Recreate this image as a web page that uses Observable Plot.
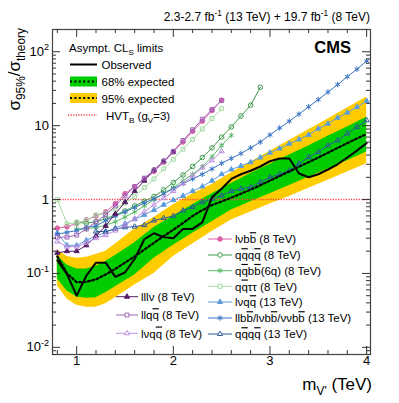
<!DOCTYPE html>
<html><head><meta charset="utf-8">
<script src="https://cdn.jsdelivr.net/npm/d3@7"></script>
<script src="https://cdn.jsdelivr.net/npm/@observablehq/plot@0.6"></script>
<style>body{margin:0;background:#fff;} svg{display:block;}</style>
</head><body><div id="chart"></div>
<script>
const FONT = "'Liberation Sans', Arial, Helvetica, sans-serif";

// ---------- data ----------
const massGrid = [0.8,0.9,1.0,1.1,1.2,1.3,1.4,1.5,1.6,1.7,1.8,1.9,2.0,2.1,2.2,2.3,2.4,2.5,2.6,2.7,2.8,2.9,3.0,3.1,3.2,3.3,3.4,3.5,3.6,3.7,3.8,3.9,4.0];
const observed = [0.15,0.098,0.05,0.093,0.14,0.14,0.09,0.103,0.157,0.29,0.35,0.31,0.30,0.40,0.40,0.49,1.07,1.4,1.9,2.2,2.45,2.8,3.3,3.6,3.6,2.25,2.0,2.2,2.55,3.0,3.7,4.6,5.8];
const expected = [0.17,0.10,0.076,0.077,0.083,0.097,0.115,0.14,0.17,0.21,0.26,0.32,0.39,0.48,0.6,0.72,0.84,0.94,1.06,1.2,1.36,1.56,1.8,2.08,2.4,2.78,3.2,3.7,4.3,5.0,5.8,6.7,7.7];

const bandMass = [0.8,0.9,1.0,1.1,1.2,1.3,1.4,1.6,1.8,2.0,2.2,2.4,2.6,2.8,3.0,3.2,3.4,3.6,3.8,4.0];
const yellowHi = [0.21,0.17,0.16,0.165,0.18,0.2,0.25,0.4,0.57,0.85,1.2,1.6,2.3,3.2,4.5,6.3,8.8,12.3,17.3,24.5];
const greenHi  = [0.175,0.13,0.115,0.115,0.125,0.145,0.175,0.26,0.42,0.6,0.85,1.2,1.65,2.25,3.0,4.0,5.3,7.2,9.6,13];
const greenLo  = [0.085,0.058,0.048,0.046,0.047,0.055,0.066,0.095,0.16,0.24,0.35,0.5,0.72,0.93,1.2,1.55,2.0,2.6,3.35,4.4];
const yellowLo = [0.068,0.045,0.037,0.035,0.035,0.039,0.047,0.07,0.1,0.17,0.25,0.37,0.53,0.68,0.87,1.1,1.42,1.82,2.35,3.05];

const hvtLevel = 1;

const m_lvbb8 = [0.8,0.9,1.0,1.1,1.2,1.3,1.4,1.5,1.6,1.7,1.8,1.9,2.0,2.1,2.2,2.3,2.4,2.5];
const v_lvbb8 = [0.41,0.43,0.47,0.53,0.6,0.68,0.88,1.2,1.5,1.9,2.4,3.2,4.4,6.0,8.4,11.5,16,22];
const m_qqqq8 = [1.0,1.1,1.2,1.3,1.4,1.5,1.6,1.7,1.8,1.9,2.0,2.1,2.2,2.3,2.4,2.5,2.6,2.7,2.8,2.9];
const v_qqqq8 = [0.49,0.48,0.5,0.55,0.62,0.7,0.82,0.95,1.1,1.35,1.7,2.15,2.8,3.7,5.0,7.0,9.6,13.5,18.9,33];
const m_6q8 = [1.0,1.1,1.2,1.3,1.4,1.5,1.6,1.7,1.8,1.9,2.0,2.1,2.2,2.3,2.4,2.5,2.6];
const v_6q8 = [0.4,0.4,0.42,0.45,0.5,0.58,0.68,0.82,1.0,1.2,1.45,1.8,2.2,2.8,3.8,5.4,7.4];
const m_qqtt8 = [0.8,0.9,1.0,1.1,1.2,1.3,1.4,1.5,1.6,1.7,1.8,1.9,2.0,2.1,2.2,2.3,2.4,2.5];
const v_qqtt8 = [1.0,0.47,0.48,0.52,0.62,0.65,0.75,0.9,1.1,1.45,1.9,2.6,3.5,4.8,6.5,9.0,12.5,17];
const m_lvqq13 = massGrid;
const v_lvqq13 = [0.35,0.24,0.24,0.28,0.32,0.36,0.41,0.47,0.54,0.62,0.72,0.85,0.98,1.12,1.3,1.5,1.8,2.2,2.55,2.85,3.2,3.7,4.3,4.9,5.7,6.5,7.5,9.1,10.6,12.8,15,17.8,21.6];
const m_llbb13 = massGrid;
const v_llbb13 = [0.34,0.36,0.38,0.42,0.44,0.52,0.6,0.68,0.78,0.9,1.02,1.2,1.4,1.65,1.9,2.2,2.6,3.1,3.6,4.2,5.0,6.0,7.5,9.3,11.5,14.3,18,22.5,28.5,36,46,58,75];
const m_qqqq13 = [1.2,1.3,1.4,1.5,1.6,1.7,1.8,1.9,2.0,2.1,2.2,2.3,2.4,2.5,2.6,2.7,2.8,2.9,3.0,3.1,3.2,3.3,3.4,3.5,3.6,3.7,3.8,3.9,4.0];
const v_qqqq13 = [0.37,0.37,0.4,0.42,0.43,0.45,0.52,0.56,0.6,0.71,0.79,0.92,1.02,1.13,1.3,1.4,1.47,1.72,2.0,2.2,2.47,3.05,3.75,4.4,5.4,6.3,7.8,9.6,11.8];
const m_lllv8 = [0.8,0.9,1.0,1.1,1.2,1.3,1.4,1.5,1.6,1.7,1.8,1.9,2.0];
const v_lllv8 = [0.19,0.2,0.2,0.24,0.32,0.44,0.64,0.92,1.3,1.8,2.5,3.3,4.4];
const m_llqq8 = [0.8,0.9,1.0,1.1,1.2,1.3,1.4,1.5,1.6,1.7,1.8,1.9,2.0,2.1,2.2,2.3,2.4,2.5];
const v_llqq8 = [0.31,0.31,0.33,0.4,0.5,0.62,0.82,1.12,1.5,1.95,2.5,3.3,4.5,6.3,8.8,12.2,16.5,22];
const m_lvqq8 = [0.8,0.9,1.0,1.1,1.2,1.3,1.4,1.5,1.6,1.7,1.8,1.9,2.0,2.1,2.2,2.3,2.4,2.5];
const v_lvqq8 = [0.27,0.23,0.23,0.26,0.3,0.33,0.38,0.45,0.55,0.68,0.85,1.05,1.3,1.65,2.1,2.7,3.4,4.5];

const xMajorTicks = [1,2,3,4];
const xMajorLabels = ["1","2","3","4"];
const xMinorTicks = [0.8,1.2,1.4,1.6,1.8,2.2,2.4,2.6,2.8,3.2,3.4,3.6,3.8];
const yMajorTicks = [0.01,0.1,1,10,100];
const yMajorLabels = [["10","-2"],["10","-1"],["1",""],["10",""],["10","2"]];
const yMinorTicks = [0.008,0.009,0.02,0.03,0.04,0.05,0.06,0.07,0.08,0.09,0.2,0.3,0.4,0.5,0.6,0.7,0.8,0.9,2,3,4,5,6,7,8,9,20,30,40,50,60,70,80,90];

const channels = [
  {key:"lvbb8", mass:m_lvbb8, val:v_lvbb8, color:"#dd5fa6", symbol:"circle", filled:true,
   label:["lν","b",["b","over"]," (8 TeV)"]},
  {key:"qqqq8", mass:m_qqqq8, val:v_qqqq8, color:"#3f9a4c", symbol:"circle", filled:false,
   label:["q",["q","over"],"q",["q","over"]," (8 TeV)"]},
  {key:"6q8", mass:m_6q8, val:v_6q8, color:"#5cbb6a", symbol:"asterisk", filled:false,
   label:["q",["q","over"],"b",["b","over"],"(6q) (8 TeV)"]},
  {key:"qqtt8", mass:m_qqtt8, val:v_qqtt8, color:"#a3dba3", symbol:"square", filled:false,
   label:["q",["q","over"],"ττ (8 TeV)"]},
  {key:"lvqq13", mass:m_lvqq13, val:v_lvqq13, color:"#5b9ddc", symbol:"triangle", filled:true,
   label:["lνq",["q","over"]," (13 TeV)"]},
  {key:"llbb13", mass:m_llbb13, val:v_llbb13, color:"#3a74c4", symbol:"asterisk", filled:false,
   label:["llb",["b","over"],"/lνb",["b","over"],"/ννb",["b","over"]," (13 TeV)"]},
  {key:"qqqq13", mass:m_qqqq13, val:v_qqqq13, color:"#2f5a9a", symbol:"triangle", filled:false,
   label:["q",["q","over"],"q",["q","over"]," (13 TeV)"]},
  {key:"lllv8", mass:m_lllv8, val:v_lllv8, color:"#561c68", symbol:"triangle", filled:true,
   label:["lllν (8 TeV)"]},
  {key:"llqq8", mass:m_llqq8, val:v_llqq8, color:"#9c66bb", symbol:"square", filled:false,
   label:["llq",["q","over"]," (8 TeV)"]},
  {key:"lvqq8", mass:m_lvqq8, val:v_lvqq8, color:"#bf8fdf", symbol:"triangle", filled:false,
   label:["lνq",["q","over"]," (8 TeV)"]}
];

// ---------- layout ----------
const W = 399, H = 403, mL = 52, mR = 29, mT = 29, mB = 49;
const fw = W - mL - mR, fh = H - mT - mB;
const symR = {circle: 2.3, square: 2.2, triangle: 1.9, asterisk: 2.6};

const obsData = massGrid.map((m,i)=>({m, v: observed[i]}));
const expData = massGrid.map((m,i)=>({m, v: expected[i]}));
const bandData = bandMass.map((m,i)=>({m, y95lo: yellowLo[i], y95hi: yellowHi[i], g68lo: greenLo[i], g68hi: greenHi[i]}));

const chMarks = [];
for (const ch of channels) {
  const d = ch.mass.map((m,i)=>({m, v: ch.val[i]}));
  chMarks.push(Plot.line(d, {x:"m", y:"v", stroke: ch.color, strokeWidth: 1}));
  chMarks.push(Plot.dot(d, {x:"m", y:"v", symbol: ch.symbol, r: symR[ch.symbol],
    fill: ch.filled ? ch.color : "none", stroke: ch.color, strokeWidth: 1}));
}

const chart = Plot.plot({
  width: W, height: H,
  marginLeft: mL, marginRight: mR, marginTop: mT, marginBottom: mB,
  style: {fontFamily: FONT, background: "#fff"},
  x: {domain: [0.75, 4.04], axis: null},
  y: {type: "log", domain: [0.008, 200], axis: null},
  marks: [
    Plot.areaY(bandData, {x:"m", y1:"y95lo", y2:"y95hi", fill:"#ffcc00"}),
    Plot.areaY(bandData, {x:"m", y1:"g68lo", y2:"g68hi", fill:"#00cc00"}),
    Plot.ruleY([hvtLevel], {stroke:"#ff4040", strokeWidth:1.4, strokeDasharray:"1.2,1.4"}),
    ...chMarks,
    Plot.line(expData, {x:"m", y:"v", stroke:"#000", strokeWidth:2.2, strokeDasharray:"2,2.4"}),
    Plot.line(obsData, {x:"m", y:"v", stroke:"#000", strokeWidth:2}),
    Plot.frame({stroke:"#444", strokeWidth:1.2}),
    Plot.tickX(xMajorTicks, {x:d=>d, insetTop: fh-8, stroke:"#333"}),
    Plot.tickX(xMajorTicks, {x:d=>d, insetBottom: fh-8, stroke:"#333"}),
    Plot.tickX(xMinorTicks, {x:d=>d, insetTop: fh-4, stroke:"#333"}),
    Plot.tickX(xMinorTicks, {x:d=>d, insetBottom: fh-4, stroke:"#333"}),
    Plot.tickY(yMajorTicks, {y:d=>d, insetRight: fw-8, stroke:"#333"}),
    Plot.tickY(yMajorTicks, {y:d=>d, insetLeft: fw-8, stroke:"#333"}),
    Plot.tickY(yMinorTicks, {y:d=>d, insetRight: fw-4, stroke:"#333"}),
    Plot.tickY(yMinorTicks, {y:d=>d, insetLeft: fw-4, stroke:"#333"}),
    Plot.text(xMajorTicks, {x:d=>d, frameAnchor:"bottom", dy:10, text:(d,i)=>xMajorLabels[i], fontSize:13, fill:"#000"})
  ]
});
document.getElementById("chart").appendChild(chart);

// ---------- rich text helper ----------
const svg = d3.select(chart);
function rich(x, y, parts, opts = {}) {
  const size = opts.size || 11.5;
  const t = svg.append("text").attr("x", x).attr("y", y)
    .attr("font-size", size).attr("font-family", FONT)
    .attr("text-anchor", opts.anchor || "start")
    .attr("font-weight", opts.weight || "normal").attr("fill", "#000");
  if (opts.rotate) t.attr("transform", `rotate(-90 ${x} ${y})`);
  let shift = 0;
  for (const p of parts) {
    const [s, mode] = typeof p === "string" ? [p, ""] : p;
    if (!s) continue;
    const ts = t.append("tspan").text(s);
    let target = 0, fs = size;
    if (mode === "sub") { target = size * 0.3; fs = size * 0.7; }
    else if (mode === "sup") { target = -size * 0.42; fs = size * 0.7; }
    else if (mode === "over") { ts.style("text-decoration", "overline"); }
    if (target !== shift) { ts.attr("dy", target - shift); shift = target; }
    if (fs !== size) ts.attr("font-size", fs);
  }
  return t;
}

const ys = chart.scale("y");
yMajorTicks.forEach((v, i) => {
  const [base, exp] = yMajorLabels[i];
  rich(mL - 3, ys.apply(v) + 4.5, exp ? [base, [exp, "sup"]] : [base], {size: 13, anchor: "end"});
});

rich(370, 21, ["2.3-2.7 fb", ["-1","sup"], " (13 TeV) + 19.7 fb", ["-1","sup"], " (8 TeV)"], {size: 12, anchor: "end"});
rich(351, 53, ["CMS"], {size: 16.5, anchor: "end", weight: "bold"});
rich(20, 28, ["σ", ["95%","sub"], "/σ", ["theory","sub"]], {size: 17, anchor: "end", rotate: true});
rich(372, 390, ["m", ["V'","sub"], " (TeV)"], {size: 17, anchor: "end"});

// legend 1
rich(69, 52, ["Asympt. CL", ["S","sub"], " limits"], {size: 11.5});
const L1x0 = 70, L1x1 = 97;
svg.append("line").attr("x1", L1x0).attr("x2", L1x1).attr("y1", 64.5).attr("y2", 64.5).attr("stroke", "#000").attr("stroke-width", 2);
rich(101.5, 69, ["Observed"]);
svg.append("rect").attr("x", L1x0).attr("y", 76.5).attr("width", L1x1-L1x0).attr("height", 10).attr("fill", "#00cc00");
svg.append("line").attr("x1", L1x0).attr("x2", L1x1).attr("y1", 81.5).attr("y2", 81.5).attr("stroke", "#000").attr("stroke-width", 2.2).attr("stroke-dasharray", "2,2.4");
rich(101.5, 86, ["68% expected"]);
svg.append("rect").attr("x", L1x0).attr("y", 93).attr("width", L1x1-L1x0).attr("height", 10).attr("fill", "#ffcc00");
svg.append("line").attr("x1", L1x0).attr("x2", L1x1).attr("y1", 98).attr("y2", 98).attr("stroke", "#000").attr("stroke-width", 2.2).attr("stroke-dasharray", "2,2.4");
rich(101.5, 102.5, ["95% expected"]);
svg.append("line").attr("x1", L1x0-2).attr("x2", L1x1).attr("y1", 115).attr("y2", 115).attr("stroke", "#ff4040").attr("stroke-width", 1.4).attr("stroke-dasharray", "1.2,1.4");
rich(106, 119.5, ["HVT", ["B","sub"], " (g", ["V","sub"], "=3)"]);

// channel legends
const symMap = {circle: d3.symbolCircle, triangle: d3.symbolTriangle, square: d3.symbolSquare, asterisk: d3.symbolAsterisk};
function legendEntry(ch, cy, x0, x1, tx) {
  const r = symR[ch.symbol];
  svg.append("line").attr("x1", x0).attr("x2", x1).attr("y1", cy).attr("y2", cy).attr("stroke", ch.color).attr("stroke-width", 1);
  svg.append("path").attr("d", d3.symbol(symMap[ch.symbol], Math.PI * r * r)())
    .attr("transform", `translate(${(x0+x1)/2},${cy})`)
    .attr("fill", ch.filled ? ch.color : "#fff").attr("stroke", ch.color).attr("stroke-width", 1);
  rich(tx, cy + 4.2, ch.label, {size: 11.5});
}
const rightKeys = ["lvbb8","qqqq8","6q8","qqtt8","lvqq13","llbb13","qqqq13"];
const rightY = [239, 255, 270.7, 286.3, 302, 318, 334];
rightKeys.forEach((k, i) => legendEntry(channels.find(c => c.key === k), rightY[i], 208, 232, 235));
const leftKeys = ["lllv8","llqq8","lvqq8"];
const leftY = [296.7, 315, 333.3];
leftKeys.forEach((k, i) => legendEntry(channels.find(c => c.key === k), leftY[i], 116, 138, 141));
</script>
</body></html>
